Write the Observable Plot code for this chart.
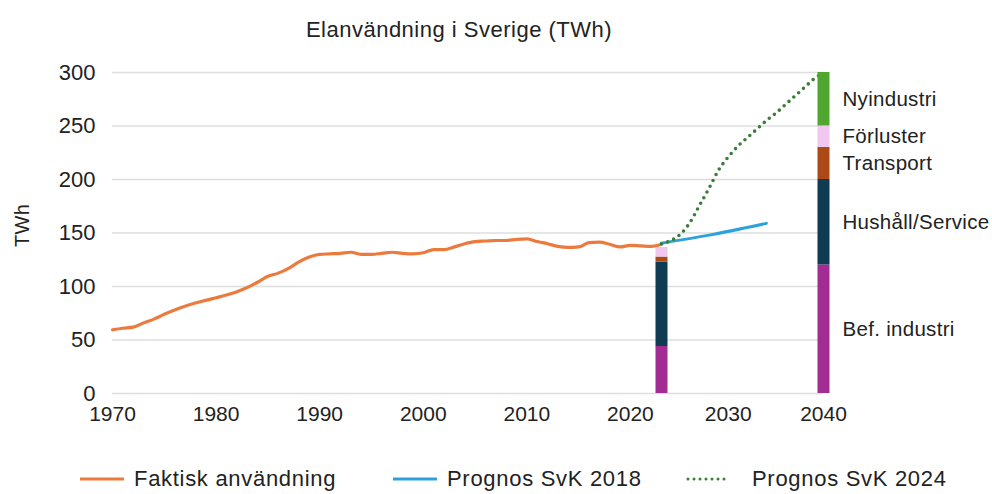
<!DOCTYPE html>
<html>
<head>
<meta charset="utf-8">
<script src="https://cdn.jsdelivr.net/npm/d3@7"></script>
<script src="https://cdn.jsdelivr.net/npm/@observablehq/plot@0.6"></script>
<style>
  body { margin: 0; background: #fff; font-family: "Liberation Sans", Arial, sans-serif; color: #222; }
  #wrap { position: relative; width: 992px; height: 494px; overflow: hidden; }
  #chart { position: absolute; left: 0; top: 0; }
  #title { position: absolute; top: 19px; left: 0; width: 918px; text-align: center; font-size: 22px; letter-spacing: 0.5px; line-height: 1; color: #222; }
  .lg { position: absolute; top: 467px; font-size: 22px; letter-spacing: 0.7px; line-height: 24px; color: #222; white-space: nowrap; display: flex; align-items: center; }
  .lg svg { margin-right: 10px; }
  #chart g[aria-label="text"] text { letter-spacing: 0.3px; }
</style>
</head>
<body>
<div id="wrap">
  <div id="chart"></div>
  <div id="title">Elanvändning i Sverige (TWh)</div>
</div>
<script>
// ---- data ----
const actualYears = d3.range(1970, 2024);
const actualValues = [
  59.5, 61, 62, 66, 69.5, 74, 78, 81.5, 84.5, 87,
  89.5, 92, 95, 99, 104, 109.5, 112.5, 117, 123, 127.5,
  130, 130.5, 131, 132, 130, 130, 131, 132, 131, 130.5,
  131.5, 134.5, 134.5, 137, 140, 142, 142.5, 143, 143, 144,
  144.5, 142, 140, 137.5, 136.5, 137, 141, 141.5, 139.5, 137,
  138.5, 138, 137.5, 139.5
];
const svk2018Years = [2023, 2028, 2034];
const svk2018Values = [140.5, 148, 159];
const svk2024Years = [2023, 2024, 2025, 2026, 2027, 2028, 2029, 2030, 2031, 2032, 2033, 2034, 2035, 2036, 2037, 2038, 2039, 2040];
const svk2024Values = [140, 143, 149, 160, 176, 192, 209, 221, 231, 239, 247, 255, 262, 270, 278, 286, 294, 300];

const segNames = ["Bef. industri", "Hushåll/Service", "Transport", "Förluster", "Nyindustri"];
const seg2023 = [44, 79, 4.5, 9, 0];
const seg2040 = [120, 80, 30, 20, 50];
const barYears = [2023, 2040];

const xTicks = [1970, 1980, 1990, 2000, 2010, 2020, 2030, 2040];
const yTicks = [0, 50, 100, 150, 200, 250, 300];

const seriesNames = ["Faktisk användning", "Prognos SvK 2018", "Prognos SvK 2024"];
const seriesColors = ["#ec7a3c", "#2ba3da", "#3b7d3b"];
const segColors = ["#a22b94", "#0f3b53", "#ab4a17", "#f1c6ef", "#4fa72f"];

// ---- tables ----
const actual = actualYears.map((y, i) => ({ year: y, value: actualValues[i] }));
const svk2018 = svk2018Years.map((y, i) => ({ year: y, value: svk2018Values[i] }));
const svk2024 = svk2024Years.map((y, i) => ({ year: y, value: svk2024Values[i] }));
const bars = [];
[seg2023, seg2040].forEach((vals, j) => {
  segNames.forEach((name, i) => bars.push({ year: barYears[j], cat: name, value: vals[i] }));
});
const bars2040 = bars.filter(d => d.year === 2040);

const plot = Plot.plot({
  width: 992,
  height: 494,
  marginLeft: 110,
  marginRight: 160,
  marginTop: 72,
  marginBottom: 101,
  style: { fontFamily: "'Liberation Sans', Arial, sans-serif", color: "#222", background: "transparent" },
  x: { type: "linear", domain: [1970, 2023, 2040], range: [112, 661, 823] },
  y: { domain: [0, 300] },
  color: { domain: segNames, range: segColors },
  marks: [
    Plot.ruleY(yTicks, { y: d => d, x1: 1970, x2: 2040, stroke: "#dedede", strokeWidth: 1.4 }),
    Plot.axisY({ ticks: yTicks, tickSize: 0, tickPadding: 15, fontSize: 22, label: null }),
    Plot.axisX({ ticks: xTicks, tickSize: 0, tickPadding: 13, fontSize: 21, tickFormat: d => String(d), label: null }),
    Plot.text(["TWh"], { frameAnchor: "left", text: d => d, rotate: -90, dx: -88, dy: 14, fontSize: 20, fill: "#222" }),
    Plot.line(actual, { x: "year", y: "value", stroke: seriesColors[0], strokeWidth: 3.2, curve: "monotone-x" }),
    Plot.line(svk2018, { x: "year", y: "value", stroke: seriesColors[1], strokeWidth: 3, curve: "monotone-x" }),
    Plot.line(svk2024, { x: "year", y: "value", stroke: seriesColors[2], strokeWidth: 3.6, strokeDasharray: "0,6.5", strokeLinecap: "round", curve: "monotone-x" }),
    Plot.ruleX(bars, Plot.stackY({ x: "year", y: "value", stroke: "cat", strokeWidth: 12 })),
    Plot.text(bars2040, Plot.stackY({ x: "year", y: "value", text: "cat", dx: 19, textAnchor: "start", fontSize: 20.5, fill: "#222" }))
  ]
});
document.getElementById("chart").appendChild(plot);

// ---- legend ----
const lgLeft = [80, 393, 686];
const wrap = document.getElementById("wrap");
seriesNames.forEach((name, i) => {
  const div = document.createElement("div");
  div.className = "lg";
  div.style.left = lgLeft[i] + "px";
  const dash = i === 2 ? 'stroke-dasharray="0,6" stroke-linecap="round"' : '';
  const w = i === 2 ? 56 : 44;
  div.innerHTML = `<svg width="${w}" height="10"><line x1="${i === 2 ? 2 : 0}" y1="5" x2="44" y2="5" stroke="${seriesColors[i]}" stroke-width="3" ${dash}/></svg><span>${name}</span>`;
  wrap.appendChild(div);
});
</script>
</body>
</html>
